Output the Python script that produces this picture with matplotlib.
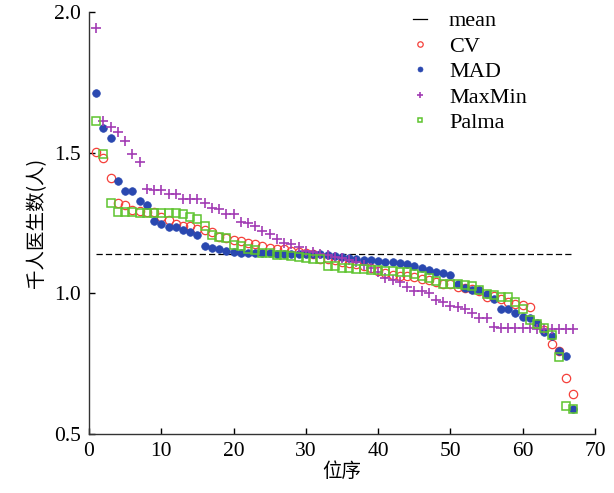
import matplotlib.pyplot as plt
import numpy as np

# 位序 1..67
wei_xu = np.arange(1, 68)
mean_val = 1.14

cv = [1.501, 1.482, 1.411, 1.322, 1.315, 1.294, 1.291, 1.289, 1.289, 1.272,
      1.260, 1.246, 1.240, 1.239, 1.228, 1.223, 1.217, 1.201, 1.196, 1.190,
      1.186, 1.180, 1.174, 1.169, 1.162, 1.158, 1.156, 1.150, 1.147, 1.144,
      1.140, 1.123, 1.121, 1.118, 1.111, 1.107, 1.103, 1.095, 1.088, 1.080,
      1.072, 1.066, 1.062, 1.060, 1.057, 1.050, 1.046, 1.041, 1.034, 1.031,
      1.022, 1.020, 1.014, 1.006, 0.988, 0.991, 0.981, 0.968, 0.962, 0.958,
      0.952, 0.892, 0.868, 0.819, 0.794, 0.698, 0.641]

mad = [1.712, 1.588, 1.551, 1.398, 1.364, 1.364, 1.326, 1.315, 1.258, 1.245,
       1.236, 1.236, 1.223, 1.218, 1.207, 1.168, 1.160, 1.157, 1.150, 1.147,
       1.144, 1.143, 1.142, 1.142, 1.142, 1.141, 1.141, 1.141, 1.141, 1.140,
       1.140, 1.140, 1.137, 1.133, 1.128, 1.126, 1.123, 1.119, 1.117, 1.115,
       1.112, 1.110, 1.108, 1.102, 1.097, 1.090, 1.084, 1.077, 1.073, 1.066,
       1.034, 1.017, 1.013, 1.011, 0.997, 0.979, 0.943, 0.943, 0.931, 0.914,
       0.911, 0.893, 0.861, 0.849, 0.795, 0.777, 0.589]

maxmin = [1.943, 1.613, 1.590, 1.572, 1.540, 1.496, 1.466, 1.372, 1.365, 1.365,
          1.354, 1.354, 1.335, 1.334, 1.334, 1.322, 1.302, 1.300, 1.280, 1.280,
          1.252, 1.250, 1.237, 1.222, 1.209, 1.193, 1.178, 1.173, 1.163, 1.151,
          1.146, 1.141, 1.136, 1.130, 1.125, 1.118, 1.110, 1.100, 1.090, 1.076,
          1.055, 1.046, 1.040, 1.023, 1.006, 1.006, 1.001, 0.976, 0.970, 0.954,
          0.950, 0.944, 0.930, 0.913, 0.913, 0.879, 0.877, 0.875, 0.875, 0.875,
          0.875, 0.874, 0.874, 0.874, 0.873, 0.873, 0.872]

palma = [1.612, 1.496, 1.322, 1.287, 1.287, 1.287, 1.286, 1.285, 1.285, 1.285,
         1.284, 1.284, 1.283, 1.270, 1.264, 1.238, 1.207, 1.199, 1.196, 1.172,
         1.166, 1.158, 1.154, 1.142, 1.142, 1.135, 1.134, 1.131, 1.128, 1.124,
         1.122, 1.121, 1.097, 1.095, 1.091, 1.091, 1.085, 1.085, 1.083, 1.081,
         1.079, 1.078, 1.076, 1.077, 1.068, 1.060, 1.053, 1.045, 1.034, 1.034,
         1.031, 1.030, 1.027, 1.012, 0.996, 0.995, 0.988, 0.985, 0.970, 0.944,
         0.903, 0.892, 0.875, 0.851, 0.774, 0.600, 0.590]

plt.rcParams['font.family'] = ['Liberation Serif', 'Noto Sans CJK SC']

fig = plt.figure(figsize=(6.14, 4.93), dpi=100)
ax = fig.add_axes([0.145, 0.12, 0.824, 0.856])

ax.plot([wei_xu[0], wei_xu[-1]], [mean_val, mean_val], color="black",
        linestyle=(0, (5, 2.5)), linewidth=0.9, label="mean")
ax.plot(wei_xu, cv, linestyle="none", marker="o", markersize=6,
        markerfacecolor="none", markeredgecolor="#f5403a", markeredgewidth=0.9,
        label="CV")
ax.plot(wei_xu, mad, linestyle="none", marker="o", markersize=5.5,
        color="#2a48b0", markeredgewidth=0.5, label="MAD")
ax.plot(wei_xu, maxmin, linestyle="none", marker="+", markersize=7,
        color="#a23cb4", markeredgewidth=1.2, label="MaxMin")
ax.plot(wei_xu, palma, linestyle="none", marker="s", markersize=5.5,
        markerfacecolor="none", markeredgecolor="#5ec42f", markeredgewidth=1.1,
        label="Palma")

ax.set_xlim(0, 70)
ax.set_ylim(0.5, 2.0)
ax.set_xticks(np.arange(0, 71, 10))
ax.set_yticks([0.5, 1.0, 1.5, 2.0])
ax.tick_params(direction="in", length=4, width=1, labelsize=15.5, pad=6)
for side in ["top", "right"]:
    ax.spines[side].set_visible(False)
for side in ["left", "bottom"]:
    ax.spines[side].set_linewidth(1.0)
    ax.spines[side].set_color("#333333")

ax.set_xlabel("位序", family=["Noto Sans CJK SC"], fontsize=14, labelpad=0)
ax.set_ylabel("千人医生数(人)", family=["Noto Sans CJK SC"], fontsize=14,
              labelpad=5)

leg = ax.legend(loc="upper right", bbox_to_anchor=(0.905, 1.05), frameon=False,
                fontsize=16, markerscale=0.65, handlelength=0.6,
                handletextpad=1.0, labelspacing=0.22)
# the mean entry only shows a short dash
leg.get_lines()[0].set_linestyle("-")

fig.savefig("out.png", dpi=100)
